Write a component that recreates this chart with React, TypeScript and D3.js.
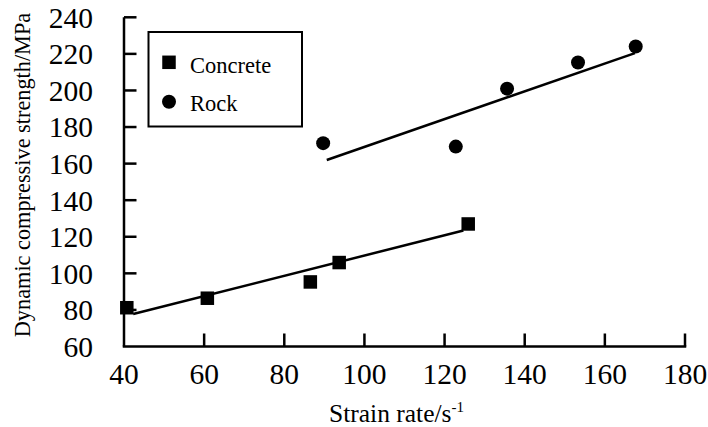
import React from "react";
import * as d3 from "d3";

const concreteX = [40.7, 60.8, 86.5, 93.7, 125.9];
const concreteY = [81.2, 86.4, 95.3, 105.9, 127.0];
const rockX = [89.7, 122.8, 135.6, 153.3, 167.7];
const rockY = [171.2, 169.3, 201.0, 215.3, 224.0];
const concreteFitX = [42.3, 124.7];
const concreteFitY = [77.8, 123.4];
const rockFitX = [90.6, 167.5];
const rockFitY = [162.0, 220.4];
const xTicks = [40, 60, 80, 100, 120, 140, 160, 180];
const yTicks = [60, 80, 100, 120, 140, 160, 180, 200, 220, 240];
const seriesNames = ["Concrete", "Rock"];

const W = 708;
const H = 427;
const FONT = "Liberation Serif";
const ts = { fontFamily: FONT };

export default function App() {
  const x = d3.scaleLinear().domain([40, 180]).range([124, 685]);
  const y = d3.scaleLinear().domain([60, 240]).range([346.5, 17.3]);
  const line = d3
    .line<[number, number]>()
    .x((d) => x(d[0]))
    .y((d) => y(d[1]));
  const cFit: [number, number][] = concreteFitX.map((v, i) => [v, concreteFitY[i]]);
  const rFit: [number, number][] = rockFitX.map((v, i) => [v, rockFitY[i]]);
  const sq = 13.5;
  const r = 7;
  return (
    <svg
      width={W}
      height={H}
      style={{ position: "absolute", left: 0, top: 0, background: "#fff", fontFamily: FONT }}
    >
      <rect width={W} height={H} fill="#fff" />
      <line x1={x(40)} x2={x(40)} y1={y(60)} y2={y(240)} stroke="#000" strokeWidth={2.5} />
      <line x1={x(40) - 1.25} x2={x(180) + 1.25} y1={y(60)} y2={y(60)} stroke="#000" strokeWidth={2.5} />
      {yTicks.map((t) => (
        <g key={"y" + t}>
          {t !== 60 && (
            <line x1={x(40)} x2={x(40) + 12.5} y1={y(t)} y2={y(t)} stroke="#000" strokeWidth={2.5} />
          )}
          <text x={93} y={y(t)} dy="0.35em" textAnchor="end" fontSize={29.5} fill="#000" style={ts}>
            {t}
          </text>
        </g>
      ))}
      {xTicks.map((t) => (
        <g key={"x" + t}>
          {t !== 40 && (
            <line x1={x(t)} x2={x(t)} y1={y(60)} y2={y(60) - 13} stroke="#000" strokeWidth={2.5} />
          )}
          <text x={x(t)} y={384} textAnchor="middle" fontSize={29.5} fill="#000" style={ts}>
            {t}
          </text>
        </g>
      ))}
      <text x={329} y={421.5} fontSize={25.5} fill="#000" style={ts}>
        Strain rate/s
        <tspan fontSize={15} dy={-10}>
          -1
        </tspan>
      </text>
      <text
        transform={`translate(30,175) rotate(-90)`}
        textAnchor="middle"
        fontSize={22.3}
        fill="#000"
        style={ts}
      >
        Dynamic compressive strength/MPa
      </text>
      <path d={line(cFit) || ""} fill="none" stroke="#000" strokeWidth={2.5} />
      <path d={line(rFit) || ""} fill="none" stroke="#000" strokeWidth={2.5} />
      {concreteX.map((v, i) => (
        <rect
          key={"c" + i}
          x={x(v) - sq / 2}
          y={y(concreteY[i]) - sq / 2}
          width={sq}
          height={sq}
          fill="#000"
        />
      ))}
      {rockX.map((v, i) => (
        <circle key={"r" + i} cx={x(v)} cy={y(rockY[i])} r={r} fill="#000" />
      ))}
      <rect x={148.5} y={32} width={153.5} height={94.5} fill="#fff" stroke="#000" strokeWidth={2} />
      <rect x={169 - sq / 2} y={62.3 - sq / 2} width={sq} height={sq} fill="#000" />
      <text x={190} y={72.5} fontSize={22.5} fill="#000" style={ts}>
        {seriesNames[0]}
      </text>
      <circle cx={169} cy={101.7} r={r} fill="#000" />
      <text x={190} y={110.7} fontSize={22.5} fill="#000" style={ts}>
        {seriesNames[1]}
      </text>
    </svg>
  );
}
